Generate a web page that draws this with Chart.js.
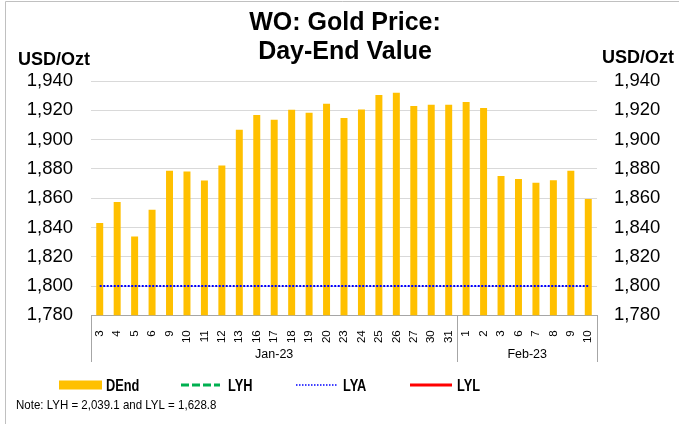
<!DOCTYPE html>
<html>
<head>
<meta charset="utf-8">
<script src="https://cdn.jsdelivr.net/npm/chart.js@4"></script>
<style>
  html, body { margin: 0; padding: 0; background: #fff; }
  #wrap { position: relative; width: 679px; height: 424px; }
</style>
</head>
<body>
<div id="wrap"><canvas id="grafico" width="679" height="424"></canvas></div>
<script>
// === Dados ===
const dias = ["3","4","5","6","9","10","11","12","13","16","17","18","19","20","23","24","25","26","27","30","31",
              "1","2","3","6","7","8","9","10"];
const meses = ["Jan-23", "Feb-23"];
const diasPorMes = [21, 8];

const dend = [1843.1, 1857.3, 1833.8, 1852.0, 1878.7, 1878.2, 1872.0, 1882.3, 1906.7, 1916.8, 1913.5,
              1920.4, 1918.3, 1924.5, 1914.7, 1920.6, 1930.4, 1932.0, 1922.9, 1923.8, 1923.8,
              1925.6, 1921.5, 1875.2, 1873.0, 1870.5, 1872.3, 1878.7, 1859.5];
const LYH = 2039.1;
const LYA = 1800;
const LYL = 1628.8;

const yMin = 1780;
const yMax = 1940;
const yStep = 20;

const titulo = ["WO: Gold Price:", "Day-End Value"];
const unidade = "USD/Ozt";
const nota = "Note: LYH = 2,039.1 and LYL = 1,628.8";

const FONTE = "'Liberation Sans', Arial, sans-serif";

const linha = (v) => dias.map(() => v);

// texto condensado na horizontal (legenda e nota)
function textoEstreito(ctx, txt, x, y, escala) {
  ctx.save();
  ctx.translate(x, y);
  ctx.scale(escala, 1);
  ctx.fillText(txt, 0, 0);
  ctx.restore();
}

// === Textos, grupos de meses, legenda e moldura ===
const extras = {
  id: "extras",
  beforeDraw(chart) {
    const ctx = chart.ctx;
    ctx.save();
    ctx.fillStyle = "#fff";
    ctx.fillRect(0, 0, chart.width, chart.height);
    ctx.strokeStyle = "#c0c0c0";
    ctx.lineWidth = 1;
    ctx.beginPath();
    ctx.moveTo(5.5, chart.height);
    ctx.lineTo(5.5, 1.5);
    ctx.lineTo(chart.width, 1.5);
    ctx.stroke();
    ctx.restore();
  },
  afterDraw(chart) {
    const ctx = chart.ctx;
    const x = chart.scales.x;
    const area = chart.chartArea;
    ctx.save();

    // título
    ctx.fillStyle = "#000";
    ctx.textAlign = "center";
    ctx.textBaseline = "alphabetic";
    ctx.font = "bold 25px " + FONTE;
    ctx.fillText(titulo[0], 345, 30);
    ctx.fillText(titulo[1], 345, 59);

    // unidades
    ctx.font = "bold 18px " + FONTE;
    ctx.textAlign = "left";
    ctx.fillText(unidade, 18, 65);
    ctx.fillText(unidade, 602, 63);

    // separadores e nomes dos meses
    const passo = (x.right - x.left) / dias.length;
    ctx.strokeStyle = "#a6a6a6";
    ctx.lineWidth = 1;
    let inicio = 0;
    const bordas = [x.left];
    meses.forEach((m, i) => {
      const fim = inicio + diasPorMes[i];
      const xa = x.left + inicio * passo;
      const xb = x.left + fim * passo;
      bordas.push(xb);
      ctx.fillStyle = "#000";
      ctx.font = "12.5px " + FONTE;
      ctx.textAlign = "center";
      ctx.fillText(m, (xa + xb) / 2, 358);
      inicio = fim;
    });
    ctx.beginPath();
    bordas.forEach((bx) => {
      const px = Math.round(bx) + 0.5;
      ctx.moveTo(px, area.bottom);
      ctx.lineTo(px, 362);
    });
    ctx.stroke();

    // legenda
    const ds = chart.data.datasets;
    const itens = [
      { d: ds[0], x0: 59, x1: 102, tx: 106 },
      { d: ds[1], x0: 181, x1: 220, tx: 228 },
      { d: ds[2], x0: 296, x1: 337, tx: 343 },
      { d: ds[3], x0: 410, x1: 452, tx: 457 },
    ];
    const yl = 385;
    ctx.textAlign = "left";
    itens.forEach((it) => {
      if (it.d.type === "bar") {
        ctx.fillStyle = it.d.backgroundColor;
        ctx.fillRect(it.x0, yl - 4.5, it.x1 - it.x0, 9);
      } else {
        ctx.strokeStyle = it.d.borderColor;
        ctx.lineWidth = it.d.legendWidth;
        ctx.setLineDash(it.d.legendDash);
        ctx.beginPath();
        ctx.moveTo(it.x0, yl);
        ctx.lineTo(it.x1, yl);
        ctx.stroke();
        ctx.setLineDash([]);
      }
      ctx.fillStyle = "#000";
      ctx.font = "bold 16px " + FONTE;
      textoEstreito(ctx, it.d.label, it.tx, 390.7, 0.8);
    });

    // nota
    ctx.font = "13px " + FONTE;
    textoEstreito(ctx, nota, 16, 408.5, 0.885);

    ctx.restore();
  },
};

const ctxGrafico = document.getElementById("grafico").getContext("2d");

new Chart(ctxGrafico, {
  data: {
    labels: dias,
    datasets: [
      {
        type: "bar",
        label: "DEnd",
        data: dend,
        backgroundColor: "#FFC000",
        barPercentage: 0.4,
        categoryPercentage: 1,
        yAxisID: "y",
        order: 2,
      },
      {
        type: "line",
        label: "LYH",
        data: linha(LYH),
        borderColor: "#00B050",
        borderWidth: 3,
        borderDash: [8, 3],
        legendWidth: 3,
        legendDash: [8, 3],
        pointRadius: 0,
        yAxisID: "y",
        order: 1,
      },
      {
        type: "line",
        label: "LYA",
        data: linha(LYA),
        borderColor: "#0000FF",
        borderWidth: 2,
        borderDash: [2, 1.5],
        legendWidth: 1.5,
        legendDash: [1.5, 1.5],
        pointRadius: 0,
        yAxisID: "y",
        order: 1,
      },
      {
        type: "line",
        label: "LYL",
        data: linha(LYL),
        borderColor: "#FF0000",
        borderWidth: 3,
        legendWidth: 3,
        legendDash: [],
        pointRadius: 0,
        yAxisID: "y",
        order: 1,
      },
    ],
  },
  options: {
    responsive: false,
    animation: false,
    layout: { padding: { top: 81, left: 0, right: 0, bottom: 0 } },
    plugins: {
      legend: { display: false },
      title: { display: false },
      tooltip: { enabled: false },
    },
    scales: {
      x: {
        offset: true,
        grid: { display: false },
        border: { display: true, color: "#a6a6a6", width: 1 },
        ticks: {
          autoSkip: false,
          minRotation: 90,
          maxRotation: 90,
          padding: 7,
          color: "#000",
          font: { family: FONTE, size: 11.5 },
        },
        afterFit(scale) { scale.height = 108.7; },
      },
      y: {
        position: "left",
        min: yMin,
        max: yMax,
        grid: { color: "#d9d9d9", lineWidth: 1, drawTicks: false },
        border: { display: false },
        ticks: {
          stepSize: yStep,
          padding: 18,
          color: "#000",
          font: { family: FONTE, size: 18.5 },
          callback: (v) => v.toLocaleString("en-US"),
        },
        afterFit(scale) { scale.width = 91; },
      },
      y2: {
        position: "right",
        min: yMin,
        max: yMax,
        grid: { display: false, drawTicks: false },
        border: { display: false },
        ticks: {
          stepSize: yStep,
          padding: 17,
          color: "#000",
          font: { family: FONTE, size: 18.5 },
          callback: (v) => v.toLocaleString("en-US"),
        },
        afterFit(scale) { scale.width = 82; },
      },
    },
  },
  plugins: [extras],
});
</script>
</body>
</html>
